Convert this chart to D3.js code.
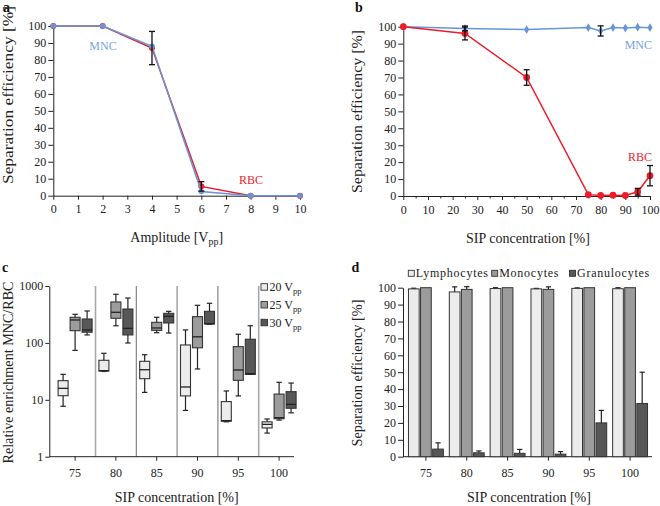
<!DOCTYPE html>
<html><head><meta charset="utf-8">
<script src="https://cdn.jsdelivr.net/npm/d3@7"></script>
<style>
body{margin:0;background:#fff;}
svg{display:block;}
.axis text{font-size:12px;fill:#222;}
.axis path,.axis line{stroke:#222;stroke-width:1;}
</style></head>
<body>
<svg id="chart" width="660" height="506"></svg>
<script>
// ---------- DATA ----------
// Panel a
const ampX = [0, 2, 4, 6, 8, 10];
const ampMNC = [100, 100, 88, 2.5, 0, 0];
const ampRBC = [100, 100, 87, 5.5, 0, 0];
const ampRBCErr = [0, 0, 9.8, 2.8, 0, 0];
const ampTicks = [0,1,2,3,4,5,6,7,8,9,10];
// Panel b
const sipX = [0, 25, 50, 75, 80, 85, 90, 95, 100];
const sipMNC = [100, 99, 98.3, 99.5, 97.5, 99.5, 99.2, 99.7, 99.4];
const sipMNCErr = [0, 1.4, 0, 0, 3, 0, 0, 0, 0];
const sipRBC = [100, 96, 70, 0.8, 0.3, 0.5, 0.3, 2.5, 12];
const sipRBCErr = [0, 3.8, 4.6, 0, 0, 0, 0, 2, 6];
const sipTicks = [0,10,20,30,40,50,60,70,80,90,100];
const effTicks = [0,10,20,30,40,50,60,70,80,90,100];
// Panel c (box stats: min, q1, median, q3, max)
const sipCategories = ["75", "80", "85", "90", "95", "100"];
const voltages = ["20", "25", "30"];
const box20 = [[7.7,11.8,15.9,21.7,28],[31.5,32,32.5,49.5,65.7],[13.5,23.5,33.8,47.5,62],[6.5,11.7,16.8,92,169],[4.1,4.2,4.3,9.3,14.3],[2.6,3.2,3.7,4.1,4.6]];
const box25 = [[74,164,253,282,318],[200,271,345,524,715],[151,166,183,230,282],[34.8,82,128,289,458],[11.7,22,33.4,86,142],[4.4,4.65,4.85,12.6,20.3]];
const box30 = [[138,154,169,263,364],[99.6,138,180,394,615],[149,224,293,331,359],[213,215,218,359,497],[28,28,28.8,116,200],[5.9,7.1,8.3,13.9,19.7]];
const logTicks = [1, 10, 100, 1000];
// Panel d
const cellTypes = ["Lymphocytes", "Monocytes", "Granulocytes"];
const lymph = [99.3, 97.5, 99.5, 99.3, 99.6, 99.4];
const lymphErr = [0.4, 3, 0.5, 0.3, 0.3, 0.6];
const mono = [100, 99, 100, 99, 100, 100];
const monoErr = [0, 1.6, 0, 1.5, 0, 0];
const gran = [4.5, 2.3, 2, 1.5, 20, 31.5];
const granErr = [3.7, 1.1, 2.3, 1.5, 7.4, 18.5];

// ---------- STYLE ----------
const BLUE = "#6795d6", BLUE_T = "#76a3dc", RED = "#ec1c2a";
const GREYS = ["#ececec", "#9c9c9c", "#575757"];
const FONT = "'Liberation Serif'";

const svg = d3.select("#chart");

function panelLabel(t, x, y){
  svg.append("text").attr("x", x).attr("y", y).attr("font-size", 14).style("font-family", FONT)
    .attr("font-weight", "bold").attr("fill", "#111").text(t);
}
function yTitle(t, x, cy, len){
  const tx = svg.append("text").attr("transform", `translate(${x},${cy}) rotate(-90)`).style("font-family", FONT)
    .attr("text-anchor", "middle").attr("font-size", 14).attr("fill", "#222")
    .attr("dy", "0.35em").text(t);
  if (len) tx.attr("textLength", len).attr("lengthAdjust", "spacingAndGlyphs");
}
function xTitle(x, y, parts){
  const t = svg.append("text").attr("x", x).attr("y", y).attr("text-anchor", "middle").style("font-family", FONT)
    .attr("font-size", 14).attr("fill", "#222");
  parts.forEach(p => {
    const s = t.append("tspan").text(p.t);
    if (p.sub) s.attr("font-size", 10).attr("baseline-shift", "-25%");
  });
}
function errBar(g, x, lo, hi, cap, w){
  g.append("line").attr("x1", x).attr("x2", x).attr("y1", lo).attr("y2", hi)
    .attr("stroke", "#111").attr("stroke-width", w || 1.3);
  [lo, hi].forEach(yy => g.append("line").attr("x1", x - cap).attr("x2", x + cap)
    .attr("y1", yy).attr("y2", yy).attr("stroke", "#111").attr("stroke-width", 1.3));
}
function fixAxis(sel){ sel.attr("font-family", null); sel.selectAll("text").style("font-family", FONT); }

// ================= PANEL A =================
{
  const x = d3.scaleLinear().domain([0, 10]).range([53.3, 300]);
  const y = d3.scaleLinear().domain([0, 100]).range([195.7, 26]);
  svg.append("g").attr("class", "axis").attr("transform", "translate(0,195.7)")
    .call(d3.axisBottom(x).tickValues(ampTicks).tickSize(4).tickSizeOuter(0).tickPadding(5)).call(fixAxis);
  svg.append("g").attr("class", "axis").attr("transform", "translate(53.3,0)")
    .call(d3.axisLeft(y).tickValues(effTicks).tickSize(5).tickSizeOuter(0).tickPadding(2)).call(fixAxis);
  const g = svg.append("g");
  const line = d3.line().x((d, i) => x(ampX[i])).y(d => y(d));
  g.append("path").datum(ampRBC).attr("d", line).attr("fill", "none").attr("stroke", RED).attr("stroke-width", 1.5);
  g.selectAll(".ra").data(ampRBC).join("circle").attr("cx", (d, i) => x(ampX[i])).attr("cy", d => y(d)).attr("r", 3).attr("fill", RED);
  g.append("path").datum(ampMNC).attr("d", line).attr("fill", "none").attr("stroke", BLUE).attr("stroke-width", 1.5);
  g.selectAll(".ma").data(ampMNC).join("circle").attr("cx", (d, i) => x(ampX[i])).attr("cy", d => y(d)).attr("r", 2.8).attr("fill", BLUE);
  ampRBC.forEach((v, i) => { if (ampRBCErr[i] > 0) errBar(g, x(ampX[i]), y(v - ampRBCErr[i]), y(v + ampRBCErr[i]), 3); });
  svg.append("text").attr("x", 103).attr("y", 50).attr("text-anchor", "middle").attr("font-size", 12).style("font-family", FONT).attr("fill", BLUE_T).text("MNC");
  svg.append("text").attr("x", 251).attr("y", 184).attr("text-anchor", "middle").attr("font-size", 12).style("font-family", FONT).attr("fill", RED).text("RBC");
  panelLabel("a", 3, 12);
  yTitle("Separation efficiency [%]", 8, 95, 178);
  xTitle(176.7, 241.5, [{t: "Amplitude [V"}, {t: "pp", sub: true}, {t: "]"}]);
}

// ================= PANEL B =================
{
  const x = d3.scaleLinear().domain([0, 100]).range([403.3, 650]);
  const y = d3.scaleLinear().domain([0, 100]).range([196, 26.7]);
  svg.append("g").attr("class", "axis").attr("transform", "translate(0,196)")
    .call(d3.axisBottom(x).tickValues(sipTicks).tickSize(4).tickSizeOuter(0).tickPadding(5)).call(fixAxis);
  svg.append("g").attr("class", "axis").attr("transform", "translate(0,196)")
    .call(d3.axisBottom(x).tickValues(sipTicks.slice(0, -1).map(t => t + 5)).tickSize(2.5).tickFormat("").tickSizeOuter(0));
  svg.append("g").attr("class", "axis").attr("transform", "translate(403.3,0)")
    .call(d3.axisLeft(y).tickValues(effTicks).tickSize(5).tickSizeOuter(0).tickPadding(2)).call(fixAxis);
  const g = svg.append("g");
  const line = d3.line().x((d, i) => x(sipX[i])).y(d => y(d));
  g.append("path").datum(sipMNC).attr("d", line).attr("fill", "none").attr("stroke", BLUE).attr("stroke-width", 1.5);
  g.selectAll(".mb").data(sipMNC).join("path")
    .attr("transform", (d, i) => `translate(${x(sipX[i])},${y(d)})`)
    .attr("d", d3.symbol().type(d3.symbolDiamond).size(22)).attr("fill", BLUE);
  g.append("path").datum(sipRBC).attr("d", line).attr("fill", "none").attr("stroke", RED).attr("stroke-width", 1.5);
  g.selectAll(".rb").data(sipRBC).join("circle").attr("cx", (d, i) => x(sipX[i])).attr("cy", d => y(d)).attr("r", 3.4).attr("fill", RED);
  sipMNC.forEach((v, i) => { if (sipMNCErr[i] > 0) errBar(g, x(sipX[i]), y(v - sipMNCErr[i]), y(v + sipMNCErr[i]), 3); });
  sipRBC.forEach((v, i) => { if (sipRBCErr[i] > 0) errBar(g, x(sipX[i]), y(v - sipRBCErr[i]), y(v + sipRBCErr[i]), 3); });
  svg.append("text").attr("x", 652).attr("y", 49).attr("text-anchor", "end").attr("font-size", 12).style("font-family", FONT).attr("fill", BLUE_T).text("MNC");
  svg.append("text").attr("x", 652).attr("y", 161).attr("text-anchor", "end").attr("font-size", 12).style("font-family", FONT).attr("fill", RED).text("RBC");
  panelLabel("b", 355, 12);
  yTitle("Separation efficiency [%]", 357, 111.5, 163);
  xTitle(528, 242.5, [{t: "SIP concentration [%]"}]);
}

// ================= PANEL C =================
{
  const x = d3.scaleBand().domain(sipCategories).range([54.7, 299.5]).padding(0);
  const y = d3.scaleLog().domain([1, 1000]).range([456.7, 286]);
  const bw = x.bandwidth();
  svg.append("g").selectAll("line").data(sipCategories.slice(1)).join("line")
    .attr("x1", d => x(d)).attr("x2", d => x(d)).attr("y1", y(1000)).attr("y2", y(1))
    .attr("stroke", (d, i) => i % 2 ? "#777" : "#a8a8a8").attr("stroke-width", (d, i) => i % 2 ? 1.1 : 1.6);
  const xa = svg.append("g").attr("class", "axis").attr("transform", "translate(0,456.7)")
    .call(d3.axisBottom(x).tickSize(4).tickSizeOuter(0).tickPadding(8)).call(fixAxis);
  xa.select(".domain").attr("d", "M49.3,0H294");
  svg.append("g").attr("class", "axis").attr("transform", "translate(49.3,0)")
    .call(d3.axisLeft(y).tickValues(logTicks).tickFormat(d3.format("d")).tickSize(4).tickSizeOuter(0).tickPadding(2)).call(fixAxis);
  const sets = [box20, box25, box30];
  const offs = [-12, 0, 12];
  const w = 10;
  const g = svg.append("g");
  sets.forEach((set, k) => {
    set.forEach((s, i) => {
      const cx = x(sipCategories[i]) + bw / 2 + offs[k];
      const [mn, q1, md, q3, mx] = s;
      g.append("line").attr("x1", cx).attr("x2", cx).attr("y1", y(mn)).attr("y2", y(mx)).attr("stroke", "#222").attr("stroke-width", 1.2);
      [mn, mx].forEach(v => g.append("line").attr("x1", cx - 2.7).attr("x2", cx + 2.7).attr("y1", y(v)).attr("y2", y(v)).attr("stroke", "#222").attr("stroke-width", 1.2));
      g.append("rect").attr("x", cx - w / 2).attr("width", w).attr("y", y(q3)).attr("height", y(q1) - y(q3))
        .attr("fill", GREYS[k]).attr("stroke", "#333").attr("stroke-width", 1.1);
      g.append("line").attr("x1", cx - w / 2).attr("x2", cx + w / 2).attr("y1", y(md)).attr("y2", y(md)).attr("stroke", "#222").attr("stroke-width", 1.3);
    });
  });
  const lg = svg.append("g");
  voltages.forEach((v, k) => {
    const cy = 287 + k * 17.8;
    lg.append("rect").attr("x", 261).attr("y", cy - 3.3).attr("width", 6.5).attr("height", 6.5)
      .attr("fill", GREYS[k]).attr("stroke", "#333").attr("stroke-width", 0.9);
    const t = lg.append("text").attr("x", 269.5).attr("y", cy + 4).attr("font-size", 12).style("font-family", FONT).attr("fill", "#222");
    t.append("tspan").text(v + " V");
    t.append("tspan").text("pp").attr("font-size", 8.5).attr("baseline-shift", "-30%");
  });
  panelLabel("c", 2, 272);
  yTitle("Relative enrichment MNC/RBC", 8, 372.5, 182);
  xTitle(176.7, 501.5, [{t: "SIP concentration [%]"}]);
}

// ================= PANEL D =================
{
  const x = d3.scaleBand().domain(sipCategories).range([405.5, 650.5]).padding(0);
  const y = d3.scaleLinear().domain([0, 100]).range([456.7, 287.7]);
  const bw = x.bandwidth();
  const xa = svg.append("g").attr("class", "axis").attr("transform", "translate(0,456.7)")
    .call(d3.axisBottom(x).tickSize(4).tickSizeOuter(0).tickPadding(8)).call(fixAxis);
  xa.select(".domain").attr("d", "M403,0H652");
  svg.append("g").attr("class", "axis").attr("transform", "translate(403,0)")
    .call(d3.axisLeft(y).tickValues(effTicks).tickSize(5).tickSizeOuter(0).tickPadding(2)).call(fixAxis);
  const series = [[lymph, lymphErr], [mono, monoErr], [gran, granErr]];
  const offs = [-12.1, 0, 12.1];
  const w = 10.7;
  const g = svg.append("g");
  series.forEach(([vals, errs], k) => {
    vals.forEach((v, i) => {
      const cx = x(sipCategories[i]) + bw / 2 + offs[k];
      if (errs[i] > 0) {
        g.append("line").attr("x1", cx).attr("x2", cx).attr("y1", y(v)).attr("y2", y(v + errs[i])).attr("stroke", "#222").attr("stroke-width", 1.2);
        g.append("line").attr("x1", cx - 2.6).attr("x2", cx + 2.6).attr("y1", y(v + errs[i])).attr("y2", y(v + errs[i])).attr("stroke", "#222").attr("stroke-width", 1.2);
      }
      g.append("rect").attr("x", cx - w / 2).attr("width", w).attr("y", y(v)).attr("height", y(0) - y(v))
        .attr("fill", GREYS[k]).attr("stroke", "#333").attr("stroke-width", 1);
    });
  });
  const lx = [408.3, 491.7, 569.5];
  cellTypes.forEach((c, k) => {
    svg.append("rect").attr("x", lx[k]).attr("y", 270.3).attr("width", 6).attr("height", 6)
      .attr("fill", GREYS[k]).attr("stroke", "#333").attr("stroke-width", 0.9);
    svg.append("text").attr("x", lx[k] + 7.5).attr("y", 277.3).attr("font-size", 12).style("font-family", FONT)
      .attr("letter-spacing", 0.75).attr("fill", "#222").text(c);
  });
  panelLabel("d", 351.5, 272);
  yTitle("Separation efficiency [%]", 357, 373, 147);
  xTitle(529, 502, [{t: "SIP concentration [%]"}]);
}
</script>
</body></html>
